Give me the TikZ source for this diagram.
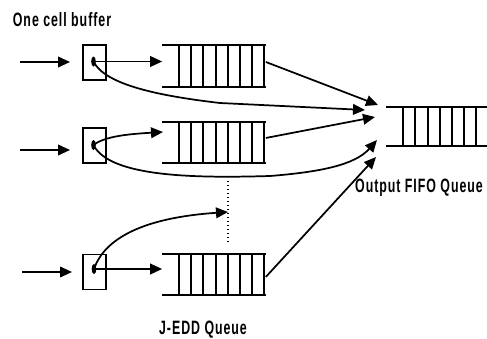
\documentclass[tikz,border=0pt]{standalone}
\usepackage{fontspec}
\newfontfamily\tagfont[FakeStretch=0.64,LetterSpace=5]{Liberation Sans}
\usetikzlibrary{positioning,shapes.geometric,calc,arrows.meta}

\begin{document}
\begin{tikzpicture}[x=0.75pt,y=-0.75pt,line width=1.3pt,
  bufnode/.style={draw,rectangle,inner sep=0pt,minimum width=17.25pt,minimum height=26.25pt},
  dotnode/.style={ellipse,fill,inner sep=0pt,minimum width=3.5pt,minimum height=7.5pt},
  qnode/.style={rectangle,inner sep=0pt,minimum width=76.5pt,minimum height=30pt},
  tagnode/.style={font=\tagfont\bfseries\fontsize{14.5}{16}\selectfont,inner sep=0pt},
  every path/.style={>={Triangle[length=9pt,width=8pt]}}
]
\useasboundingbox (0,0) rectangle (487,339);

% the one cell buffers
\node[bufnode] (b1) at (94.5,62.5) {};
\node[bufnode] (b2) at (94.5,145.5) {};
\node[bufnode] (b3) at (94.5,272) {};
\node[dotnode] (d1) at (93.5,61.5) {};
\node[dotnode] (d2) at (93.5,145) {};
\node[dotnode] (d3) at (94,269) {};

% the J-EDD queues
\node[qnode] (q1) at (214,66) {};
\node[qnode] (q2) at (214,142.5) {};
\node[qnode] (q3) at (214,274.5) {};
\foreach \q in {q1,q2,q3} {
  \draw[line width=1.5pt] (\q.north west) -- (\q.north east);
  \draw[line width=1.5pt] (\q.south west) -- (\q.south east);
  \foreach \k in {0,...,7}
    \draw[line width=1.5pt] ($(\q.north west)+(17+12.14*\k,0)$) -- ($(\q.south west)+(17+12.14*\k,0)$);
}

% the output queue
\node[qnode,minimum width=75pt,minimum height=28.5pt] (oq) at (437,126.5) {};
\draw[line width=1.5pt] (oq.north west) -- (oq.north east);
\draw[line width=1.5pt] (oq.south west) -- (oq.south east);
\foreach \k in {0,...,6}
  \draw[line width=1.5pt] ($(oq.north west)+(17+12.2*\k,0)$) -- ($(oq.south west)+(17+12.2*\k,0)$);

% the inputs
\coordinate (s1) at (20,62);
\coordinate (s2) at (20,150);
\coordinate (s3) at (22,272);
\draw[->] (s1) -- (s1 -| 70,0);
\draw[->] (s2) -- (s2 -| 70,0);
\draw[->] (s3) -- (s3 -| 72,0);

% the tips at the output
\coordinate (t1) at (378,105);
\coordinate (t2) at (365,110);
\coordinate (t3) at (375,117);
\coordinate (t4) at (377,140);
\coordinate (t5) at (376,157);
\coordinate (e3) at (228,212);

% the edges
\draw[->] (d1.center) -- (d1.center -| q1.west);
\draw[->] (d3.center) -- (d3.center -| q3.west);
\draw[->] (d2.center) .. controls (105,136) and (130,134) .. (163,132);
\draw[->] (d3.center) .. controls (104,240) and (140,218) .. (e3);
\draw[->] (d1.center) .. controls (105,85) and (160,96) .. (220,103) -- (t2);
\draw[->] (d2.center) .. controls (110,178) and (200,178) .. (270,176)
                      .. controls (320,172) and (355,165) .. (t4);
\draw[->] ([yshift=3pt]q1.east) -- (t1);
\draw[->] ([yshift=3.4pt]q2.east) -- (t3);
\draw[->] ([yshift=-1.8pt]q3.east) -- (t5);

% the dotted gap
\coordinate (g1) at (228,181);
\coordinate (g2) at (228,243);
\draw[dotted,line width=1pt] (g1) -- (g2);

% the labels
\node[tagnode] (lbuf) at (62,20) {One cell buffer};
\node[tagnode] (lout) at (419,188) {Output FIFO Queue};
\node[tagnode] (ledd) at (203,330) {J-EDD Queue};
\end{tikzpicture}
\end{document}
